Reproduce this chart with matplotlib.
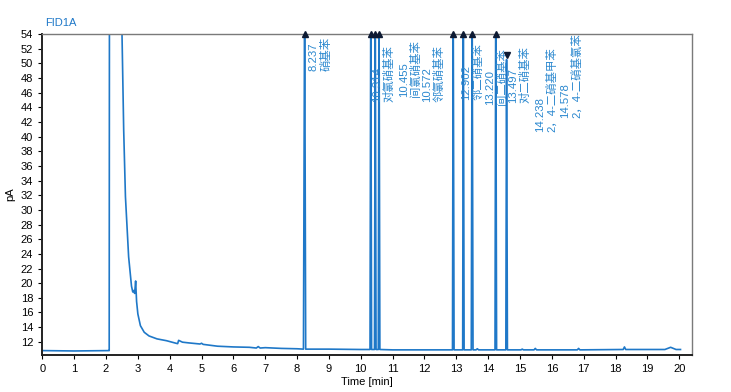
import matplotlib
matplotlib.use("Agg")
import matplotlib.pyplot as plt

# chromatogram trace (time in min, signal in pA)
time_min = [
    0.0, 1.0, 2.08, 2.10, 2.13, 2.45, 2.50, 2.555, 2.61, 2.71, 2.80, 2.84, 2.87, 2.90,
    2.93, 2.96, 3.00, 3.08, 3.20, 3.35, 3.60, 3.90, 4.20, 4.25, 4.28, 4.40, 4.60,
    4.95, 5.00, 5.05, 5.50, 6.00, 6.50, 6.72, 6.78, 6.84, 7.00, 7.50, 8.00, 8.20,
    8.237, 8.27, 9.00, 10.00, 10.29, 10.314, 10.34, 10.43, 10.455, 10.48, 10.55,
    10.572, 10.60, 11.00, 12.00, 12.88, 12.902, 12.93, 13.20, 13.220, 13.245,
    13.47, 13.497, 13.525, 13.62, 13.66, 13.70, 14.00, 14.215, 14.238, 14.265,
    14.555, 14.578, 14.605, 15.03, 15.07, 15.11, 15.44, 15.48, 15.52, 16.80,
    16.84, 16.88, 18.24, 18.28, 18.32, 19.55, 19.73, 19.90, 20.04,
]
signal_pa = [
    10.80, 10.75, 10.80, 10.80, 200.0, 80.0, 54.5, 40.9, 31.8, 23.6, 19.6, 18.8, 19.0, 18.6,
    20.3, 17.5, 15.8, 14.2, 13.3, 12.8, 12.4, 12.15, 11.8, 11.75, 12.2, 11.95, 11.85,
    11.7, 11.8, 11.65, 11.4, 11.3, 11.25, 11.15, 11.35, 11.15, 11.2, 11.1, 11.05, 11.0,
    60.0, 11.0, 11.0, 10.95, 10.95, 60.0, 10.95, 10.95, 60.0, 10.95, 10.95,
    60.0, 10.95, 10.9, 10.9, 10.9, 60.0, 10.9, 10.9, 60.0, 10.9,
    10.9, 60.0, 10.9, 10.9, 11.05, 10.9, 10.9, 10.9, 60.0, 10.9,
    10.9, 50.5, 10.9, 10.9, 11.0, 10.9, 10.9, 11.1, 10.9, 10.9,
    11.1, 10.9, 10.95, 11.3, 10.95, 10.95, 11.25, 10.95, 10.95,
]

# integrated peaks: retention time, compound, apex marker
peak_rt = [8.237, 10.314, 10.455, 10.572, 12.902, 13.220, 13.497, 14.238, 14.578]
peak_names = ["硝基苯", "对氯硝基苯", "间氯硝基苯", "邻氯硝基苯", "邻二硝基苯",
              "间二硝基苯", "对二硝基苯", "2，4-二硝基甲苯", "2，4-二硝基氯苯"]
peak_apex = [54, 54, 54, 54, 54, 54, 54, 54, 51.2]
peak_offscale = [True, True, True, True, True, True, True, True, False]

# where the label blocks sit (spread out so they do not overlap)
label_x = [8.37, 10.37, 11.19, 11.94, 13.15, 13.90, 14.63, 15.46, 16.25]
label_y = [48.9, 44.7, 45.4, 44.7, 45.0, 44.3, 44.6, 40.6, 42.5]

x_ticks = list(range(0, 21))
y_ticks = list(range(12, 55, 2))

BLUE = "#1f78c8"
LABEL_BLUE = "#2b88cf"

plt.rcParams["font.family"] = ["Liberation Sans", "Noto Sans CJK SC", "DejaVu Sans"]

fig = plt.figure(figsize=(7.31, 3.92), dpi=100)
ax = fig.add_axes([0.0579, 0.0944, 0.8887, 0.8189])

ax.plot(time_min, signal_pa, color=BLUE, linewidth=1.2)

for rt, apex, off in zip(peak_rt, peak_apex, peak_offscale, strict=True):
    ax.plot([rt], [apex], marker="^" if off else "v", markersize=5,
            color="#0d1a33", linestyle="none", clip_on=False, zorder=5)

for rt, name, lx, ly in zip(peak_rt, peak_names, label_x, label_y, strict=True):
    ax.text(lx, ly, f"{rt:.3f}\n{name}", rotation=90, ha="left", va="bottom",
            multialignment="left", fontsize=8.2, linespacing=1.15,
            color=LABEL_BLUE, clip_on=False)

ax.set_xlim(0, 20.4)
ax.set_ylim(10.2, 54)
ax.set_xticks(x_ticks)
ax.set_yticks(y_ticks)
ax.tick_params(labelsize=8, length=3, width=0.8)

for side in ("left", "bottom"):
    ax.spines[side].set_linewidth(1.4)
    ax.spines[side].set_color("#222222")
for side in ("top", "right"):
    ax.spines[side].set_linewidth(1.0)
    ax.spines[side].set_color("#7a7a7a")

ax.set_xlabel("Time [min]", fontsize=8, labelpad=2)
ax.set_ylabel("pA", fontsize=8, labelpad=4)
ax.text(0.005, 1.02, "FID1A", transform=ax.transAxes, fontsize=8,
        color=BLUE, ha="left", va="bottom")

fig.savefig("out.png", dpi=100)
plt.close(fig)
